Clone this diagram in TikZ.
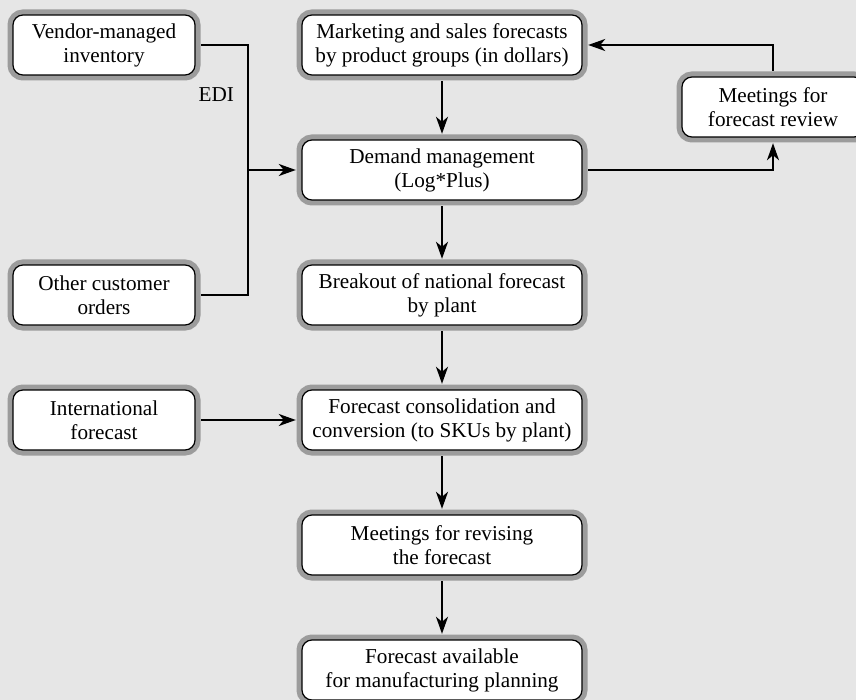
\documentclass[tikz,border=0pt]{standalone}
\usepackage{fontspec}
\setmainfont{Liberation Serif}
\usetikzlibrary{arrows.meta}
\definecolor{bgcol}{HTML}{E6E6E6}
\definecolor{rimcol}{HTML}{9C9C9C}

\begin{document}
\begin{tikzpicture}[x=0.5pt, y=-0.5pt,
  every node/.style={font=\fontsize{10.6pt}{12pt}\selectfont, align=center},
  box/.style={draw=black, line width=0.6pt, fill=white, rounded corners=5pt,
    minimum height=30pt, inner sep=1pt,
    preaction={draw=rimcol, line width=5.5pt}},
  midbox/.style={box, minimum width=140pt},
  sidebox/.style={box, minimum width=91pt},
  arr/.style={line width=1.1pt, shorten <=2.8pt, shorten >=2.8pt,
    -{Stealth[length=8.5pt, width=6pt, inset=2.5pt]}},
  link/.style={line width=1.1pt, shorten <=2.8pt, shorten >=2.8pt}]
  \useasboundingbox (0,0) rectangle (856,700);
  \fill[bgcol] (0,0) rectangle (856,700);
  \clip (0,0) rectangle (856,700);

  % centre column
  \node[midbox] (market) at (442,45) {Marketing and sales forecasts\\by product groups (in dollars)};
  \node[midbox] (demand) at (442,170) {Demand management\\(Log*Plus)};
  \node[midbox] (breakout) at (442,295) {Breakout of national forecast\\by plant};
  \node[midbox] (consol) at (442,420) {Forecast consolidation and\\conversion (to SKUs by plant)};
  \node[midbox] (revise) at (442,545) {Meetings for revising\\the forecast};
  \node[midbox] (avail) at (442,670) {Forecast available\\for manufacturing planning};

  % side boxes
  \node[sidebox] (vendor) at (104,45) {Vendor-managed\\inventory};
  \node[sidebox] (orders) at (104,295) {Other customer\\orders};
  \node[sidebox] (intl) at (104,420) {International\\forecast};
  \node[sidebox] (review) at (773,107) {Meetings for\\forecast review};

  \coordinate (bus) at (248,170);
  \node[anchor=east] (edi) at (241,95) {EDI};

  \draw[link] (vendor.east) -| (bus) |- (orders.east);
  \draw[arr, shorten <=0pt] (bus) -- (demand.west);
  \draw[arr] (intl) -- (consol);
  \draw[arr] (demand.east) -| (review.south);
  \draw[arr] (review.north) |- (market.east);
  \foreach \a/\b in {market/demand, demand/breakout, breakout/consol, consol/revise, revise/avail}
    \draw[arr] (\a) -- (\b);
\end{tikzpicture}
\end{document}
